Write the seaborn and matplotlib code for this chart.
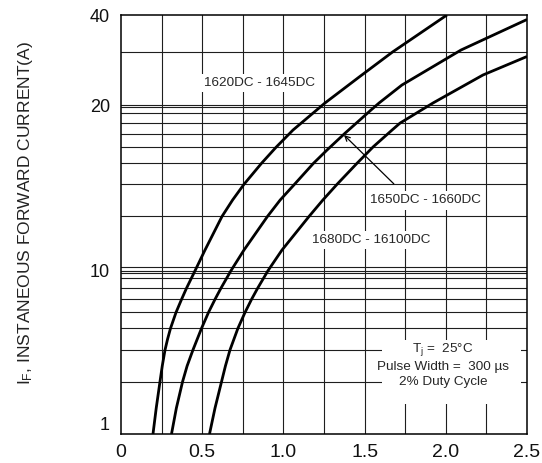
import numpy as np
import pandas as pd
import matplotlib
matplotlib.use("Agg")
import matplotlib.pyplot as plt
import seaborn as sns
from matplotlib.patches import Rectangle

# ---------------- data ----------------
series_names = ["1620DC - 1645DC", "1650DC - 1660DC", "1680DC - 16100DC"]

v_1620 = [0.197, 0.217, 0.240, 0.254, 0.271, 0.287, 0.305, 0.339, 0.373, 0.403,
          0.456, 0.517, 0.622, 0.687, 0.757, 0.865, 0.954, 1.059, 1.256, 1.469,
          1.672, 2.007]
i_1620 = [1.00, 1.443, 2.09, 2.609, 3.27, 3.817, 4.44, 5.56, 6.68, 7.80,
          10.0, 10.9, 12.55, 13.44, 14.35, 15.67, 16.75, 18.01, 20.31, 24.87,
          30.08, 40.0]

v_1650 = [0.311, 0.341, 0.379, 0.407, 0.443, 0.496, 0.539, 0.579, 0.615, 0.677,
          0.757, 0.902, 0.980, 1.068, 1.185, 1.268, 1.379, 1.539, 1.589, 1.730,
          2.094, 2.500]
i_1650 = [1.00, 1.443, 2.09, 2.609, 3.27, 4.44, 5.56, 6.68, 7.80, 10.0,
          10.9, 12.55, 13.44, 14.35, 15.67, 16.56, 17.77, 19.58, 20.31, 23.33,
          30.55, 38.64]

v_1680 = [0.545, 0.579, 0.619, 0.643, 0.671, 0.720, 0.764, 0.804, 0.841, 0.905,
          0.991, 1.158, 1.243, 1.330, 1.453, 1.554, 1.669, 1.718, 1.921, 2.229,
          2.500]
i_1680 = [1.00, 1.443, 2.09, 2.609, 3.27, 4.44, 5.56, 6.68, 7.80, 10.0,
          10.9, 12.55, 13.44, 14.35, 15.67, 16.80, 18.01, 18.54, 20.31, 25.20,
          29.06]

x_ticks = [0, 0.5, 1.0, 1.5, 2.0, 2.5]
x_ticklabels = ["0", "0.5", "1.0", "1.5", "2.0", "2.5"]
y_ticks = [1, 10, 20, 40]
y_ticklabels = ["1", "10", "20", "40"]

# graph-paper lines of the (non-uniform) current axis
grid_current = [2.09, 3.27, 4.44, 5.56, 6.68, 7.80, 8.98, 9.64, 10.0, 10.14,
                12.57, 14.37, 15.69, 16.78, 17.72, 18.55, 19.34, 19.81, 20.0, 30.1]
grid_voltage = [0.25, 0.5, 0.75, 1.0, 1.25, 1.5, 1.75, 2.0, 2.25]

# arrow tip on the 1650DC curve
arrow_v, arrow_i = 1.373, 17.64

# ---------------- scale of the printed graph paper ----------------
scale_vals = np.log10([1, 10, 20, 40])
scale_pos = np.array([0.0, 163.3, 329.0, 419.0])


def fwd(v):
    v = np.asarray(v, dtype=float)
    return np.interp(np.log10(np.clip(v, 1e-6, None)), scale_vals, scale_pos)


def inv(p):
    p = np.asarray(p, dtype=float)
    return 10 ** np.interp(p, scale_pos, scale_vals)


# ---------------- style ----------------
sns.set_style("white")
plt.rcParams["font.family"] = ["Liberation Sans", "DejaVu Sans"]
plt.rcParams["mathtext.fontset"] = "custom"
plt.rcParams["mathtext.rm"] = "Liberation Sans"
plt.rcParams["mathtext.it"] = "Liberation Sans"

fig = plt.figure(figsize=(5.42, 4.63), dpi=100)
ax = fig.add_axes([121 / 542, 29 / 463, 406 / 542, 419 / 463])

df = pd.concat([
    pd.DataFrame({"voltage": v_1620, "current": i_1620, "series": series_names[0]}),
    pd.DataFrame({"voltage": v_1650, "current": i_1650, "series": series_names[1]}),
    pd.DataFrame({"voltage": v_1680, "current": i_1680, "series": series_names[2]}),
], ignore_index=True)

sns.lineplot(data=df, x="voltage", y="current", hue="series",
             palette={n: "black" for n in series_names}, legend=False,
             sort=False, estimator=None, linewidth=2.0, ax=ax, zorder=5,
             solid_joinstyle="round", solid_capstyle="butt")

ax.set_yscale("function", functions=(fwd, inv))
ax.set_xlim(0, 2.5)
ax.set_ylim(1, 40)

grid_col = "#1e1e1e"
for g in grid_current:
    ax.axhline(g, color=grid_col, lw=0.8, zorder=1)
for g in grid_voltage:
    ax.axvline(g, color=grid_col, lw=0.8, zorder=1)

ax.set_xticks(x_ticks)
ax.set_xticklabels(x_ticklabels)
ax.set_yticks(y_ticks)
ax.set_yticklabels(y_ticklabels)
ax.minorticks_off()
ax.tick_params(axis="x", length=0, pad=7, labelsize=14, colors="#111111")
ax.tick_params(axis="y", length=0, pad=8, labelsize=13, colors="#111111")
ax.get_yticklabels()[0].set_verticalalignment("bottom")

for s in ax.spines.values():
    s.set_visible(True)
    s.set_color("black")
    s.set_linewidth(1.1)

ax.set_xlabel("")
ax.set_ylabel(r"$\mathregular{I_F}$, INSTANEOUS FORWARD CURRENT(A)",
              fontsize=12.5, color="#222222")
ax.yaxis.set_label_coords(-0.212, 0.527)

box = dict(boxstyle="square,pad=0.25", fc="white", ec="none")
fs = 9.7
ax.text(0.342, 0.838, series_names[0], transform=ax.transAxes, ha="center",
        va="center", fontsize=fs, bbox=box, zorder=3)
ax.text(0.749, 0.558, series_names[1], transform=ax.transAxes, ha="center",
        va="center", fontsize=fs, bbox=box, zorder=3)
ax.text(0.617, 0.463, series_names[2], transform=ax.transAxes, ha="center",
        va="center", fontsize=fs, bbox=box, zorder=3)

ax.annotate("", xy=(arrow_v, arrow_i), xycoords="data",
            xytext=(0.672, 0.597), textcoords="axes fraction",
            arrowprops=dict(arrowstyle="->", lw=0.9, color="black",
                            mutation_scale=9, shrinkA=0, shrinkB=0),
            zorder=4)

ax.add_patch(Rectangle((0.642, 0.072), 0.343, 0.152, transform=ax.transAxes,
                       fc="white", ec="none", zorder=2))
ax.text(0.793, 0.166,
        "$\\mathregular{T_j}$ =  25\u00b0C\nPulse Width =  300 \u00b5s\n2% Duty Cycle",
        transform=ax.transAxes, ha="center", va="center", fontsize=fs,
        linespacing=1.35, zorder=3)

fig.savefig("out.png", dpi=100)
